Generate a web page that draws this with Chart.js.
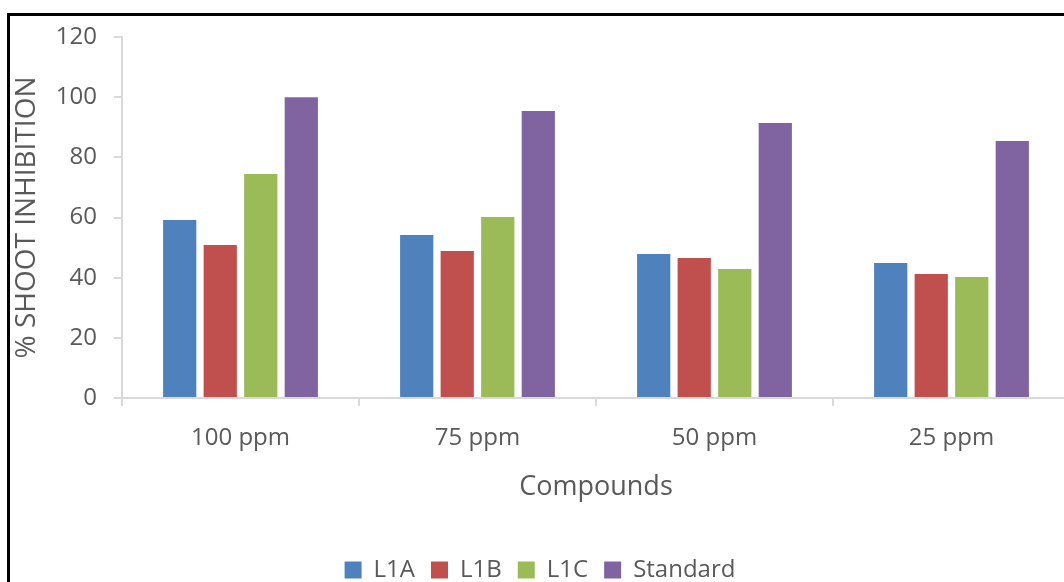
<!DOCTYPE html>
<html>
<head>
<meta charset="utf-8">
<script src="https://cdn.jsdelivr.net/npm/chart.js@4/dist/chart.umd.min.js"></script>
<style>
  html, body { margin: 0; padding: 0; background: #fff; overflow: hidden; width: 1064px; height: 582px; }
  #frame { position: absolute; left: 7px; top: 13px; width: 1100px; height: 576px; border: 3px solid #000; background: #fff; }
  canvas { display: block; }
</style>
</head>
<body>
<div id="frame"><canvas id="shoot-chart" width="1100" height="576"></canvas></div>
<script>
// data
const categories = ['100 ppm', '75 ppm', '50 ppm', '25 ppm'];
const l1a = [59.2, 54.2, 47.9, 44.9];
const l1b = [50.9, 48.9, 46.5, 41.2];
const l1c = [74.5, 60.2, 42.9, 40.2];
const standard = [100, 95.4, 91.4, 85.4];
const series_names = ['L1A', 'L1B', 'L1C', 'Standard'];
const y_ticks = [0, 20, 40, 60, 80, 100, 120];

var colors = {'L1A': '#4F81BD', 'L1B': '#C0504D', 'L1C': '#9BBB59', 'Standard': '#8064A2'};
const text_color = '#595959';
const axis_color = '#D9D9D9';
const font_family = '"Open Sans", "Noto Sans", sans-serif';

const values = [l1a, l1b, l1c, standard];
let datasets = series_names.map(function (name, i) {
  return {
    label: name,
    data: values[i],
    backgroundColor: colors[name],
    borderWidth: 0,
    categoryPercentage: 0.684,
    barPercentage: 0.82
  };
});

const ctx = document.getElementById('shoot-chart').getContext('2d');
new Chart(ctx, {
  type: 'bar',
  data: {
    labels: categories,
    datasets: datasets
  },
  options: {
    responsive: false,
    animation: false,
    devicePixelRatio: 1,
    layout: {
      padding: { top: 21, right: 40, left: 0, bottom: 0 }
    },
    plugins: {
      legend: {
        position: 'bottom',
        labels: {
          boxWidth: 17,
          boxHeight: 17,
          padding: 16,
          color: text_color,
          font: { family: font_family, size: 24 }
        }
      },
      tooltip: { enabled: false }
    },
    scales: {
      x: {
        grid: {
          display: true,
          drawOnChartArea: false,
          drawTicks: true,
          tickLength: 8,
          color: axis_color,
          lineWidth: 2
        },
        border: { display: true, color: axis_color, width: 2 },
        ticks: {
          color: text_color,
          padding: 18,
          maxRotation: 0,
          font: { family: font_family, size: 24 }
        },
        title: {
          display: true,
          text: 'Compounds',
          color: text_color,
          padding: { top: 0, bottom: 38 },
          font: { family: font_family, size: 27 }
        },
        afterFit: function (scale) {
          scale.height = 144;
        }
      },
      y: {
        min: 0,
        max: 120,
        afterBuildTicks: function (scale) {
          scale.ticks = y_ticks.map(function (v) { return { value: v }; });
        },
        grid: {
          display: true,
          drawOnChartArea: false,
          drawTicks: true,
          tickLength: 8,
          color: axis_color,
          lineWidth: 2
        },
        border: { display: true, color: axis_color, width: 2 },
        ticks: {
          color: text_color,
          padding: 17,
          font: { family: font_family, size: 24 }
        },
        title: {
          display: true,
          text: '% SHOOT INHIBITION',
          color: text_color,
          padding: 0,
          font: { family: font_family, size: 28 }
        },
        afterFit: function (scale) {
          scale.width = 112;
          // keep the top label overhang from pushing the plot down
          scale.paddingTop = 0;
          scale.paddingBottom = 0;
        }
      }
    }
  }
});
</script>
</body>
</html>
